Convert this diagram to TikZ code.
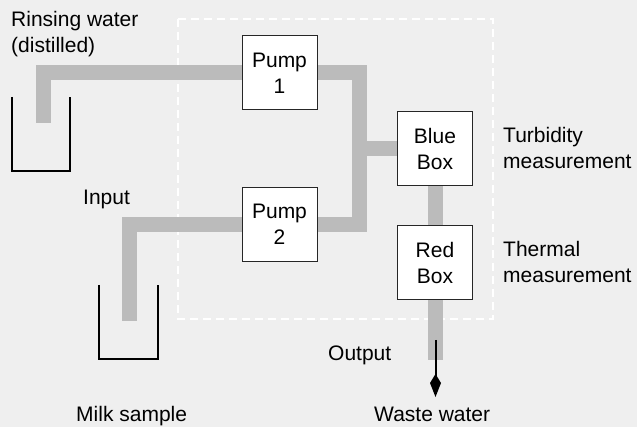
\documentclass[tikz,border=0pt]{standalone}
\usepackage{fontspec}
\setmainfont{Liberation Sans}
\usepackage{xcolor}
\usetikzlibrary{arrows.meta,backgrounds}

\definecolor{bggray}{HTML}{EFEFEF}
\definecolor{pipegray}{HTML}{BBBBBB}

\begin{document}
\begin{tikzpicture}[
  x=1pt, y=-1pt,
  font=\fontsize{21}{26}\selectfont,
  >={Kite[length=23pt,width=11pt,inset=9pt]},
  unit/.style={draw=black!85, line width=1pt, fill=white, inner sep=0pt,
               minimum width=75pt, minimum height=74pt, align=center},
  label/.style={inner sep=0pt, align=left, anchor=base west},
  pipe/.style={pipegray, line width=15pt, line join=miter},
  beaker/.style={black, line width=2pt},
  flow/.style={->, black, line width=2pt},
  frame/.style={white, line width=1.6pt, dash pattern=on 8pt off 5pt}]

\useasboundingbox (0,0) rectangle (637,427);

\node[unit] (pump1) at (279.5,73) {Pump\\ 1};
\node[unit] (pump2) at (279.5,224.5) {Pump\\ 2};
\node[unit] (bluebox) at (435,149) {Blue\\ Box};
\node[unit] (redbox) at (435,262.5) {Red\\ Box};

%% ---- pipe ends and the tee ----
\coordinate (rinsein) at (43,123);
\coordinate (milkin) at (129.5,321);
\coordinate (tee) at (359.5,149);
\coordinate (wasteout) at (435,360);

%% ---- beakers ----
\draw[beaker] (12,97) -- (12,171) -- (70,171) -- (70,97);
\draw[beaker] (99,285) -- (99,359) -- (158,359) -- (158,285);

%% ---- frame and pipes, behind the boxes (pipes cross the frame) ----
\begin{pgfonlayer}{background}
\fill[bggray] (0,0) rectangle (637,427);
\draw[frame] (178,19) rectangle (493,319);
\draw[pipe] (rinsein) |- (pump1.west);
\draw[pipe] (milkin) |- (pump2.west);
\draw[pipe] (pump1.east) -| (tee) |- (pump2.east);
\draw[pipe] (tee) -- (bluebox.west);
\draw[pipe] (bluebox.south) -- (redbox.north);
\draw[pipe] (redbox.south) -- (wasteout);
\end{pgfonlayer}

% outlet arrow
\coordinate (arrtail) at (435.5,340);
\coordinate (arrtip) at (435.5,397);
\draw[flow] (arrtail) -- (arrtip);

%% ---- labels (base = last line) ----
\node[label] (rinselbl) at (11,53) {Rinsing water\\ (distilled)};
\node[label] (inputlbl) at (83,205) {Input};
\node[label] (milklbl) at (76,421) {Milk sample};
\node[label] (turblbl) at (503,169) {Turbidity\\ measurement};
\node[label] (thermlbl) at (503,283) {Thermal\\ measurement};
\node[label] (outlbl) at (328,360) {Output};
\node[label] (wastelbl) at (374,421) {Waste water};
\end{tikzpicture}
\end{document}
